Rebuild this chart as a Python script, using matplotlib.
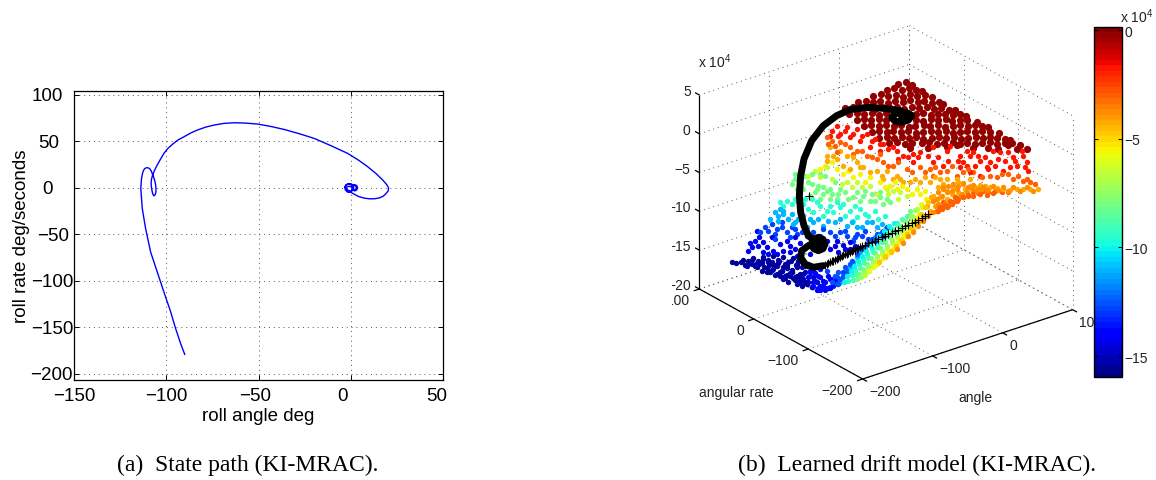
import matplotlib
matplotlib.use('Agg')
import matplotlib.pyplot as plt
from matplotlib.colors import Normalize
from matplotlib.cm import ScalarMappable

plt.rcParams['font.family'] = ['Liberation Sans', 'DejaVu Sans']
plt.rcParams['mathtext.default'] = 'regular'

# state path, panel (a)
roll_angle = [-90.0, -92.2, -94.9, -97.6, -101.3, -104.9, -108.5, -111.2, -113.0, -113.8,
              -113.4, -113.0, -112.5, -111.8, -110.9, -110.0, -109.1, -108.3, -107.6, -106.9, -106.3, -105.8,
              -105.6, -105.6, -106.0, -106.3, -106.7, -107.2, -107.6, -108.0, -108.2, -108.0, -107.4, -106.3,
              -104.9, -103.1, -101.3, -99.1, -96.7, -93.7, -90.4, -86.8, -83.2, -78.6, -74.1, -68.7, -63.2,
              -56.9, -50.5, -43.3, -36.1, -27.9, -19.7, -10.7, -1.6, 4.2, 9.2, 13.8, 17.4, 19.4, 20.5, 20.3,
              19.2, 17.6, 15.6, 12.9, 10.0, 7.4, 4.7, 2.4, 0.2, -1.5, -3.1, -2.6, -1.2, 0.4, 1.3, 1.6, 1.1,
              -0.2, -1.8, -2.9, -3.2, -2.7, -1.4, 0.0, 0.9, 1.0, 0.1, -1.4, -2.5, -2.6, -1.0, 0.6, 1.0, 2.2,
              3.3, 3.7, 3.2, 2.1, 1.0, 0.7, 1.2, 2.1, 2.9, 3.0, 2.2, 1.3, 1.3]
roll_rate = [-178.9, -167.4, -151.3, -133.3, -111.8, -90.3, -68.8, -43.7, -22.2, -0.7,
             10.0, 14.3, 17.9, 20.4, 21.5, 21.5, 20.8, 18.6, 15.4, 11.8, 8.2, 3.9,
             -0.7, -4.3, -7.2, -8.2, -8.6, -7.2, -4.3, 0.0, 4.7, 9.3, 13.6, 19.0,
             24.4, 30.8, 36.9, 42.3, 46.6, 51.3, 54.8, 58.8, 62.0, 65.2, 67.4, 69.2, 69.9,
             69.5, 68.5, 65.9, 62.7, 58.1, 53.0, 45.2, 36.9, 29.7, 22.6, 15.1, 8.2, 3.6, 0.0, -3.2,
             -6.1, -9.0, -10.8, -11.8, -11.8, -11.1, -9.7, -7.5, -5.0, -2.5, 1.1, 3.2, 4.5, 4.2, 2.5, 0.0, -2.6,
             -4.8, -4.6, -2.4, 0.0, 2.6, 3.9, 3.4, 1.4, -1.2, -3.4, -3.9, -1.8, 0.6, 1.6, 0.8, 2.6, 3.4,
             2.2, 0.0, -2.4, -3.4, -2.2, 0.0, 2.0, 2.6, 1.4, -0.6, -2.4, -1.2, 0.4]
a_xticks = [-150, -100, -50, 0, 50]
a_yticks = [100, 50, 0, -50, -100, -150, -200]

# panel (b): ticks of the 3d box
b_angle_ticks = [-200, -100, 0, 100]
b_rate_ticks = [-200, -100, 0, 100]
b_drift_ticks = [5, 0, -5, -10, -15, -20]
cbar_ticks = [0, -5, -10, -15]

level_drift = [-0.2, -1.8, -3.0, -4.2, -5.4, -6.6, -8.0, -9.5, -11.0, -12.8, -14.2, -15.5,
               -15.3, -13.8, -12.5, -10.0, -8.7, -7.3, -6.0, -4.8, -3.8, -3.0,
               -1.8, -3.0, -4.2, -5.4, -6.6, -8.0, -9.5, -11.0, -12.8, -14.2]
level_x = [
    [655, 677, 696, 620, 641, 665, 686, 709, 725, 580, 603, 623, 647, 668, 691, 711, 735, 755,
     535, 558, 578, 601, 624, 645, 668, 690, 713, 733, 757, 778, 790,
     495, 518, 540, 563, 584, 607, 629, 652, 673, 697, 718, 741, 762, 784, 806, 824,
     508, 530, 552, 575, 597, 618, 642, 663, 686, 707, 730, 752, 773, 796, 818, 840, 857,
     530, 553, 573, 596, 619, 640, 664, 684, 708, 729, 752, 774, 797, 817, 841, 862, 890,
     552, 574, 597, 618, 642, 662, 686, 706, 731, 751, 775, 795, 819, 839, 863, 885, 907, 925,
     575, 597, 620, 640, 664, 685, 708, 728, 752, 773, 797, 818, 840, 862, 884, 906, 929, 957,
     598, 621, 642, 665, 686, 709, 730, 755, 776, 799, 821, 842, 863, 887, 908, 930, 952, 974, 991,
     628, 650, 675, 697, 725, 748, 770, 792, 818, 840, 862, 885, 905, 930, 950, 975, 997, 1019,
     690, 745, 800, 830, 880, 925, 955, 985, 1010, 1042],
    [470, 500, 530, 560, 585, 610, 450, 480, 510, 540, 570, 600, 640, 670, 700, 720, 655, 700, 760, 790,
     840, 870, 900, 930, 960, 990, 1030, 1040, 1000, 850, 920, 880, 800, 760, 810, 940, 1010, 1045, 970, 900],
    [440, 455, 480, 510, 530, 560, 590, 610, 640, 680, 720, 750, 780, 815, 850, 880, 930, 965, 1000, 1030,
     1050, 1065, 760, 770, 785, 800, 815, 790, 830, 850, 865, 880, 895, 910, 925, 945, 965, 985],
    [450, 480, 500, 470, 530, 490, 550, 590, 620, 650, 690, 720, 750, 780, 660, 610, 440,
     700, 718, 735, 750, 765, 760, 775, 790, 800, 820, 835, 850, 780, 800, 815, 835, 855, 870, 885, 900,
     915, 930, 950, 970, 990, 1010, 1030, 1050, 1075, 615, 632, 648, 665, 682, 698, 712, 728, 742, 752],
    [435, 470, 505, 540, 555, 600, 630, 650, 680, 710, 735, 580, 592, 608, 622, 638, 652, 668, 682, 698,
     712, 725, 738],
    [405, 440, 500, 530, 570, 620, 640, 660, 555, 565, 578, 592, 605, 620, 635, 650, 665, 680, 695, 710],
    [345, 335, 350, 360, 375, 395, 420, 435, 395, 415, 430, 465, 450, 480, 405, 430, 455, 470, 505, 530,
     555, 575, 600, 585, 620, 540, 610, 530, 538, 548, 560, 572, 585, 600, 615, 630, 645, 660, 675, 690],
    [300, 320, 345, 370, 395, 420, 450, 480, 510, 540, 565, 595, 530, 400, 430, 505, 515, 525, 537, 548,
     560, 575, 590, 605, 620, 635, 650],
    [285, 310, 335, 355, 390, 430, 465, 500, 530, 560, 590, 295, 310, 325, 480, 490, 500, 510, 520, 530,
     540, 555, 570, 585, 600, 620],
    [255, 275, 290, 305, 320, 335, 350, 285, 480, 500, 520, 545, 565, 590, 610, 530, 450, 460, 475, 455,
     440, 470, 450, 490],
    [210, 205, 232, 238, 235, 262, 250, 275, 278, 300, 320, 345, 345, 360, 330, 390, 470, 490, 450, 510,
     370, 385, 400, 420, 395, 410, 430, 360, 380, 440, 445, 415, 400],
    [157, 168, 182, 196, 210, 224, 238, 252, 266, 280, 294, 308, 322, 336, 350,
     190, 205, 220, 235, 250, 265, 280, 295, 310, 325, 340, 355,
     245, 260, 275, 290, 305, 320, 335, 350, 300, 315, 330, 345, 360, 375],
    [200, 215, 230, 245, 260, 275, 290, 305, 320, 335, 350, 365,
     215, 232, 248, 265, 282, 298, 315, 332, 348, 365, 380,
     270, 285, 300, 315, 330, 345, 360, 375, 390,
     310, 325, 340, 355, 370, 385, 400, 350, 365, 380, 395, 410],
    [390, 405, 420, 435, 450, 400, 415, 430, 445, 460, 420, 435, 450, 465, 375, 390, 405, 420],
    [455, 465, 480, 470, 490, 500, 510, 475, 495, 515, 530, 545, 560, 575, 590, 605, 620],
    [492, 502, 512, 522, 533, 545, 558, 572, 585, 598, 612, 628, 642],
    [518, 528, 540, 552, 565, 578, 592, 606, 620, 635, 650, 665, 680],
    [542, 552, 565, 578, 592, 606, 620, 635, 650, 665, 680, 695, 705],
    [568, 582, 598, 612, 628, 644, 660, 675, 690, 704, 716, 724],
    [598, 615, 632, 648, 664, 680, 694, 708, 722, 735, 745],
    [650, 668, 685, 700, 715, 730, 745, 758, 770,
     775, 790, 805, 820, 835, 850, 865, 880, 895, 910, 925, 940, 955, 970, 985, 1000, 1020, 1040, 1060,
     770, 785, 800, 815, 830, 845, 860, 875, 890, 905, 920, 780, 795, 810, 825, 840, 760, 775, 790],
    [775, 790, 805, 820, 835, 850, 865, 880, 780, 795, 810, 825, 900, 920, 940],
    [455, 475, 495, 520, 545, 575, 600, 625, 650, 685, 715, 745, 775, 805, 835, 860, 885, 915, 945, 975,
     1005, 1025, 1035, 860, 895, 925, 955, 985, 840, 870],
    [465, 495, 520, 545, 575, 600, 625, 655, 695, 735, 765, 800, 830, 865, 905, 950, 985, 1015, 1040, 445, 470],
    [440, 460, 520, 510, 540, 570, 605, 640, 670, 705, 735, 765, 800, 830, 870],
    [420, 455, 490, 520, 570, 615, 645, 665, 695, 720],
    [385, 420, 455, 485, 515, 545, 590, 625, 655, 680],
    [345, 370, 385, 410, 440, 475, 495, 520, 550, 570, 600, 630, 360, 390, 420, 450],
    [310, 335, 360, 385, 410, 440, 470, 495, 525, 555, 585, 615, 350, 375, 460, 490, 520],
    [300, 325, 345, 370, 400, 415, 445, 480, 515, 545, 575, 605, 295, 270, 340, 380],
    [240, 265, 285, 305, 330, 345, 365, 430, 465, 495, 525, 555, 585, 610, 380, 400, 420],
    [215, 225, 250, 265, 290, 310, 330, 350, 440, 465, 495, 525, 475, 510],
]
level_y = [
    [195, 190, 198, 212, 208, 214, 207, 213, 216, 230, 226, 232, 228, 233, 226, 231, 228, 235,
     248, 245, 250, 246, 251, 247, 249, 244, 250, 247, 252, 250, 256,
     266, 263, 268, 264, 269, 265, 267, 263, 269, 264, 268, 265, 270, 267, 272, 274,
     284, 281, 286, 283, 287, 282, 285, 283, 287, 284, 282, 287, 284, 286, 288, 285, 291,
     302, 300, 304, 300, 303, 301, 305, 300, 303, 306, 301, 304, 300, 305, 302, 303, 308,
     320, 318, 322, 319, 321, 318, 323, 320, 318, 322, 319, 323, 320, 318, 322, 319, 322, 325,
     338, 336, 340, 337, 339, 336, 341, 338, 336, 340, 337, 341, 338, 336, 340, 337, 340, 343,
     356, 354, 358, 355, 357, 354, 359, 356, 354, 358, 355, 359, 356, 354, 358, 355, 357, 360, 362,
     372, 370, 374, 371, 373, 370, 375, 372, 370, 374, 371, 375, 372, 370, 374, 371, 373, 378,
     386, 388, 385, 378, 388, 386, 389, 378, 390, 390],
    [320, 325, 330, 345, 360, 375, 350, 345, 355, 365, 385, 395, 385, 410, 405, 400, 420, 430, 430, 440,
     410, 410, 425, 430, 400, 445, 410, 430, 415, 430, 445, 400, 395, 385, 380, 395, 440, 455, 455, 470],
    [355, 365, 370, 385, 395, 410, 420, 430, 440, 450, 445, 450, 460, 440, 460, 460, 470, 465, 480, 485,
     490, 495, 470, 575, 570, 565, 555, 550, 545, 535, 530, 520, 522, 515, 520, 515, 520, 518],
    [385, 395, 410, 420, 430, 440, 445, 455, 455, 470, 490, 490, 490, 480, 480, 480, 410,
     620, 605, 590, 575, 560, 530, 505, 495, 515, 505, 490, 495, 535, 540, 525, 520, 510, 500, 505, 497,
     500, 505, 508, 510, 512, 510, 510, 510, 510, 715, 700, 685, 665, 650, 632, 612, 590, 560, 535],
    [440, 450, 455, 465, 490, 490, 500, 510, 510, 510, 515, 745, 735, 718, 705, 690, 672, 655, 640, 620,
     595, 565, 540],
    [455, 445, 490, 490, 500, 510, 515, 520, 768, 755, 738, 720, 705, 690, 672, 655, 640, 622, 600, 570],
    [465, 495, 510, 490, 470, 465, 465, 470, 495, 500, 505, 490, 510, 510, 520, 525, 525, 540, 540, 520,
     515, 525, 520, 545, 540, 545, 555, 780, 765, 750, 735, 718, 703, 688, 670, 655, 640, 622, 605, 575],
    [550, 545, 540, 555, 540, 560, 560, 565, 575, 570, 590, 600, 595, 580, 590, 785, 768, 752, 735, 720,
     705, 690, 675, 660, 645, 630, 612],
    [580, 575, 585, 600, 600, 620, 610, 620, 625, 610, 625, 590, 585, 600, 790, 775, 760, 745, 730, 715,
     700, 685, 670, 655, 645, 628],
    [625, 615, 630, 610, 640, 625, 645, 645, 640, 650, 665, 650, 660, 650, 635, 645, 640, 800, 795, 780,
     755, 775, 805, 760],
    [672, 695, 635, 655, 680, 685, 700, 655, 695, 675, 665, 655, 690, 672, 700, 705, 665, 678, 690, 670,
     765, 775, 790, 800, 805, 812, 785, 790, 795, 808, 770, 770, 755],
    [729, 733, 730, 737, 733, 741, 735, 745, 738, 750, 732, 745, 738, 752, 735,
     722, 725, 716, 726, 715, 724, 712, 722, 714, 728, 718, 725,
     756, 760, 752, 764, 757, 768, 760, 770, 772, 778, 770, 782, 776, 788],
    [740, 735, 745, 732, 748, 728, 742, 755, 748, 760, 745, 745,
     722, 733, 720, 730, 738, 725, 735, 725, 738, 730, 742,
     760, 768, 760, 770, 762, 775, 765, 760, 755,
     780, 788, 778, 790, 780, 790, 775, 795, 800, 795, 805, 790],
    [770, 785, 775, 790, 780, 800, 808, 800, 806, 798, 812, 812, 806, 785, 740, 760, 762, 750],
    [790, 770, 780, 795, 770, 755, 735, 760, 745, 725, 705, 690, 675, 660, 645, 640, 625],
    [788, 772, 756, 740, 725, 710, 695, 680, 665, 652, 635, 622, 612],
    [783, 765, 748, 732, 716, 700, 684, 668, 652, 636, 618, 600, 590],
    [774, 760, 745, 728, 712, 696, 680, 664, 648, 630, 612, 590, 572],
    [757, 742, 725, 710, 695, 678, 662, 646, 628, 610, 585, 555],
    [730, 712, 696, 680, 662, 644, 628, 606, 585, 565, 548],
    [690, 672, 652, 640, 622, 606, 590, 578, 565,
     520, 505, 500, 495, 500, 492, 505, 498, 510, 505, 512, 500, 512, 503, 515, 505, 515, 505, 515,
     540, 530, 520, 515, 510, 525, 520, 510, 515, 510, 512, 560, 555, 550, 535, 530, 545, 555, 510],
    [575, 565, 560, 548, 540, 535, 528, 530, 565, 558, 545, 535, 525, 527, 522],
    [335, 350, 335, 345, 350, 365, 375, 390, 395, 415, 415, 410, 415, 425, 425, 440, 440, 415, 440, 425,
     425, 395, 445, 395, 410, 450, 420, 400, 445, 460],
    [380, 375, 405, 395, 415, 405, 440, 430, 460, 460, 445, 455, 470, 450, 475, 475, 465, 470, 480, 375, 400],
    [425, 410, 415, 450, 445, 460, 470, 480, 490, 480, 475, 475, 480, 480, 480],
    [450, 430, 465, 475, 475, 505, 490, 500, 525, 525],
    [470, 475, 480, 495, 505, 505, 525, 525, 540, 530],
    [480, 510, 490, 510, 515, 525, 520, 535, 530, 545, 535, 550, 525, 530, 540, 540],
    [560, 555, 565, 570, 550, 575, 550, 590, 560, 585, 575, 590, 545, 540, 580, 555, 605],
    [570, 600, 610, 590, 610, 600, 605, 600, 610, 625, 610, 615, 605, 600, 615, 625],
    [640, 635, 660, 625, 655, 630, 640, 630, 650, 635, 655, 635, 665, 650, 650, 640, 650],
    [685, 665, 670, 705, 705, 695, 680, 710, 665, 680, 690, 680, 700, 690],
]

# trajectory over the model, same view plane
plus_x = [745, 735, 725, 715, 705, 695, 685, 675, 665, 655, 645, 635, 625, 615, 605, 595, 585, 575, 565, 555,
          545, 535, 525, 515, 505, 495, 485, 475, 465, 455, 445, 435, 388,
          540, 530, 520, 510, 500, 490, 480, 470, 460, 450, 440]
plus_y = [586, 592, 596, 603, 608, 613, 618, 622, 627, 632, 637, 641, 645, 650, 655, 660, 665, 669, 673, 678,
          682, 687, 692, 696, 702, 706, 712, 717, 722, 727, 732, 737, 532,
          685, 690, 694, 699, 704, 709, 715, 720, 725, 730, 735]
path_x = [430, 400, 375, 362, 365, 385, 395, 401, 415, 429, 435, 429, 415, 401, 395, 415, 385, 372, 362, 358,
          362, 372, 395, 430, 470, 510, 560, 610, 660, 695, 685, 665, 645, 635, 645, 665, 685, 695, 665]
path_y = [740, 745, 735, 715, 695, 680, 675, 661, 655, 661, 675, 689, 695, 689, 675, 675, 650, 620, 580, 530,
          470, 420, 365, 320, 290, 272, 265, 268, 275, 290, 303, 310, 306, 295, 284, 280, 283, 290, 295]

fig = plt.figure(figsize=(11.56, 4.81), dpi=100)
W, H = 1156.0, 481.0


def offset_label(ax, text, xy, dx, dy, ha, va, size):
    ax.annotate(text, xy=xy, xycoords='data', xytext=(dx, dy), textcoords='offset pixels',
                ha=ha, va=va, fontsize=size, annotation_clip=False)


def minus(t):
    return str(t).replace('-', '\u2212')


# ---- panel (a)
ax = fig.add_axes([74 / W, 1 - 381 / H, 369 / W, 289 / H])
ax.plot(roll_angle, roll_rate, color='#0000ff', lw=1.0)
ax.set_xlim(-150, 50)
ax.set_ylim(-206.5, 104)
ax.set_xticks(a_xticks)
ax.set_yticks(a_yticks)
ax.set_xticklabels([])
ax.set_yticklabels([])
ax.grid(True, color='#555555', linestyle=(0, (1, 4)), linewidth=0.7)
ax.set_axisbelow(True)
ax.tick_params(direction='in', top=True, right=True, length=3.5, width=0.7)
for s in ax.spines.values():
    s.set_linewidth(0.9)

# matlab export left these labels off centre, so each gets its own shift
for tick, dx in zip(a_xticks, [0, 0, -3, -8, -6]):
    offset_label(ax, minus(tick), (tick, -206.5), dx, -7, 'center', 'top', 13.5)
for tick, dx in zip(a_yticks, [-11, -15, -21, -5, -1, -1, -1]):
    offset_label(ax, minus(tick), (-150, tick), dx, -1, 'right', 'center', 13.5)
ax.set_xlabel('roll angle deg', fontsize=13.5, labelpad=16)
ax.set_ylabel('roll rate deg/seconds', fontsize=13.5, labelpad=28)

# ---- panel (b), a flat axes holding the view plane of the 3d box
bx = fig.add_axes([672 / W, 1 - 420 / H, 484 / W, 400 / H])
bx.set_xlim(-24, 1428)
bx.set_ylim(1200, 0)
bx.axis('off')


def project(angle, rate, drift):
    a = angle + 200
    r = rate + 200
    return (548 + 2.1 * a - 1.633 * r, 1080 - 0.693 * a - 0.9 * r - 23.28 * (drift + 20))


def seg(p, q, **kw):
    x0, y0 = project(*p)
    x1, y1 = project(*q)
    bx.plot([x0, x1], [y0, y1], solid_capstyle='butt', **kw)


grid_kw = dict(color='#555555', linestyle=(0, (1, 4)), linewidth=0.7, zorder=1)
z_lo, z_hi = -20, 5
for t in b_angle_ticks:
    seg((t, -200, z_lo), (t, 100, z_lo), **grid_kw)
    seg((t, 100, z_lo), (t, 100, z_hi), **grid_kw)
for t in b_rate_ticks:
    seg((-200, t, z_lo), (100, t, z_lo), **grid_kw)
    seg((100, t, z_lo), (100, t, z_hi), **grid_kw)
for t in b_drift_ticks:
    seg((-200, 100, t), (100, 100, t), **grid_kw)
    seg((100, 100, t), (100, -200, t), **grid_kw)

axis_kw = dict(color='black', linewidth=0.9, zorder=2)
seg((-200, 100, z_lo), (-200, 100, z_hi), **axis_kw)
seg((-200, 100, z_lo), (-200, -200, z_lo), **axis_kw)
seg((-200, -200, z_lo), (100, -200, z_lo), **axis_kw)
for t in b_drift_ticks:
    seg((-200, 100, t), (-200, 108, t), **axis_kw)
for t in b_angle_ticks:
    seg((t, -200, z_lo), (t, -208, z_lo), **axis_kw)
for t in b_rate_ticks:
    seg((-200, t, z_lo), (-208, t, z_lo), **axis_kw)

norm = Normalize(-15.96, 0.14)
cmap = plt.get_cmap('jet', 64)
for drift, xs, ys in zip(level_drift, level_x, level_y):
    bx.scatter(xs, ys, s=27 if drift == -0.2 else 15, color=cmap(norm(drift)), linewidths=0, zorder=3)

bx.plot(path_x, path_y, color='black', lw=5.0, solid_capstyle='round', solid_joinstyle='round', zorder=4)
bx.plot(plus_x, plus_y, linestyle='none', marker='+', color='black', ms=6, mew=0.8, zorder=4)

tick_size = 10
for t in b_drift_ticks:
    x, y = project(-200, 100, t)
    bx.text(x - 26, y - 12, minus(t), ha='right', va='center', fontsize=tick_size, clip_on=True, color='#222222')
for t in b_angle_ticks:
    x, y = project(t, -200, z_lo)
    bx.text(x + 20, y + 37, minus(t), ha='left', va='center', fontsize=tick_size, color='#222222')
for t in b_rate_ticks:
    x, y = project(-200, t, z_lo)
    bx.text(x - 30, y + 32, minus(t), ha='right', va='center', fontsize=tick_size, clip_on=True, color='#222222')
bx.text(105, 125, 'x 10$^{4}$', ha='center', va='center', fontsize=tick_size, color='#222222')
bx.text(170, 1118, 'angular rate', ha='center', va='center', fontsize=tick_size, color='#222222')
bx.text(885, 1133, 'angle', ha='center', va='center', fontsize=tick_size, color='#222222')

# colour bar sits on top of the clipped 100 tick label
cax = fig.add_axes([1094 / W, 1 - 378 / H, 28 / W, 350 / H], zorder=5)
cb = fig.colorbar(ScalarMappable(norm=norm, cmap=cmap), cax=cax)
cb.set_ticks(cbar_ticks)
cb.set_ticklabels([minus(t) for t in cbar_ticks])
cax.tick_params(direction='in', left=True, right=True, length=3, width=0.7, labelsize=tick_size, pad=2,
                labelcolor='#222222')
cb.outline.set_linewidth(1.0)
fig.text(1137 / W, 1 - 17 / H, 'x 10$^{4}$', ha='center', va='center', fontsize=tick_size, color='#222222')

# captions
fig.text(248 / W, 1 - 465 / H, '(a)  State path (KI-MRAC).', ha='center', va='center',
         fontsize=17, family=['Liberation Serif'])
fig.text(917 / W, 1 - 465 / H, '(b)  Learned drift model (KI-MRAC).', ha='center', va='center',
         fontsize=17, family=['Liberation Serif'])

fig.savefig('out.png', dpi=100)
